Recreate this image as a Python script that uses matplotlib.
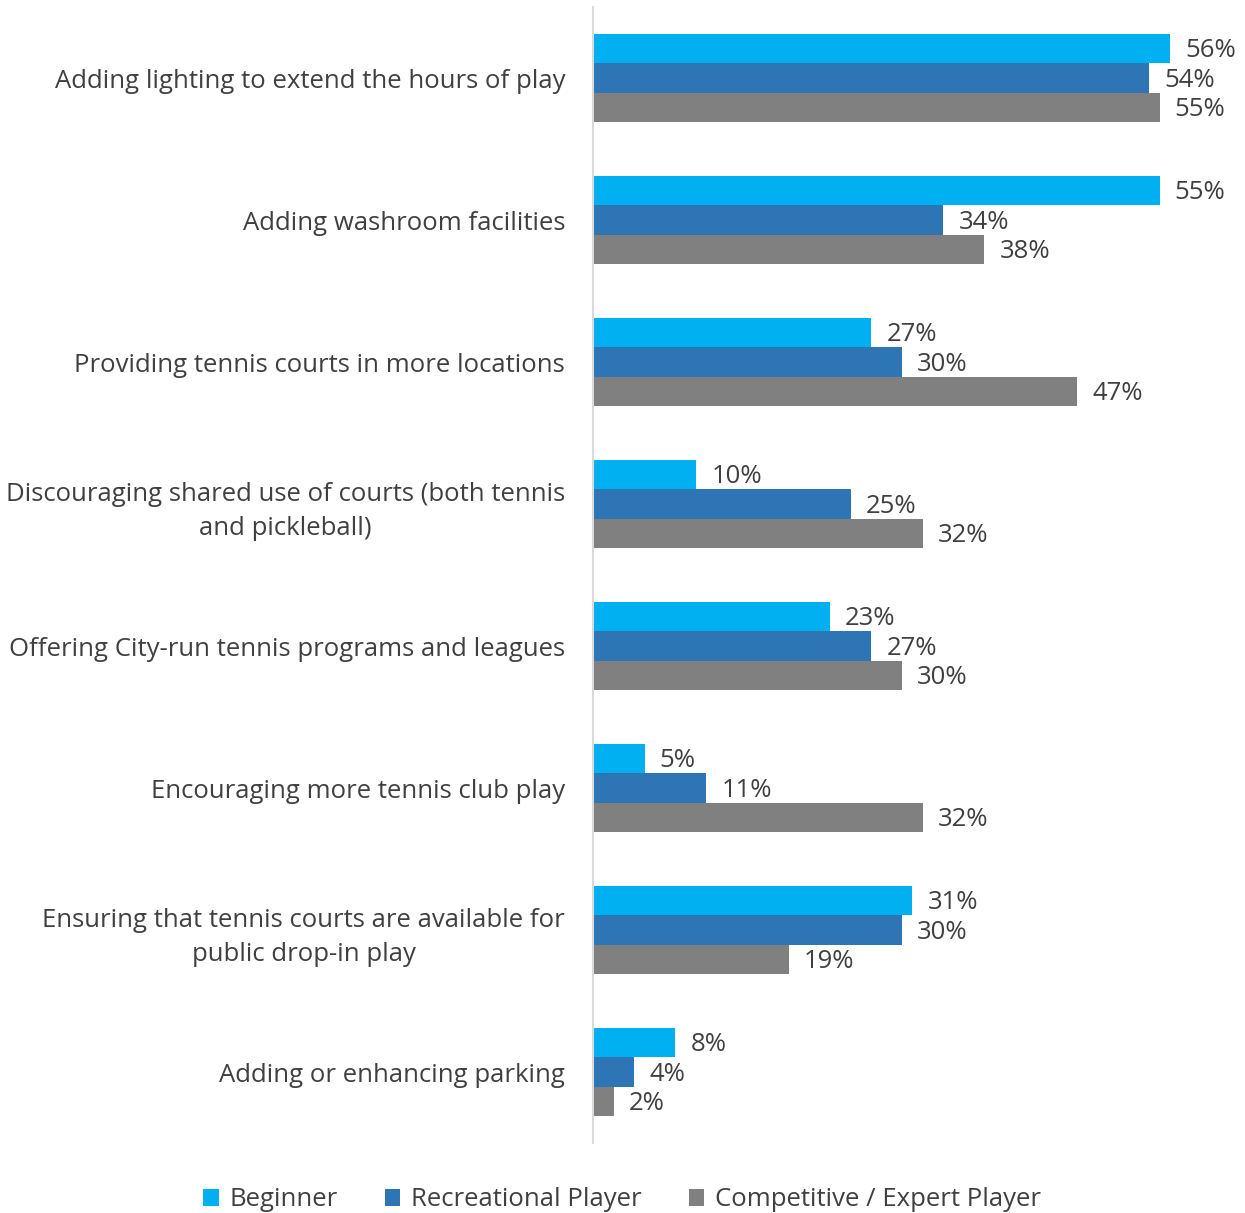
import matplotlib
matplotlib.use("Agg")
import matplotlib.pyplot as plt
from matplotlib.patches import Patch
import numpy as np

categories = [
    "Adding lighting to extend the hours of play",
    "Adding washroom facilities",
    "Providing tennis courts in more locations",
    "Discouraging shared use of courts (both tennis\nand pickleball)",
    "Offering City-run tennis programs and leagues",
    "Encouraging more tennis club play",
    "Ensuring that tennis courts are available for\npublic drop-in play",
    "Adding or enhancing parking",
]
series_names = ["Beginner", "Recreational Player", "Competitive / Expert Player"]
beginner = [56, 55, 27, 10, 23, 5, 31, 8]
recreational = [54, 34, 30, 25, 27, 11, 30, 4]
competitive = [55, 38, 47, 32, 30, 32, 19, 2]
colors = ["#00B0F0", "#2E75B6", "#808080"]

plt.rcParams["font.family"] = ["Open Sans", "DejaVu Sans"]
text_color = "#404040"
fs = 18.5

W, H = 1245, 1213
fig = plt.figure(figsize=(W / 100, H / 100), dpi=100)
left, right, top, bottom = 593, 1245, 7, 1143
ax = fig.add_axes([left / W, 1 - bottom / H, (right - left) / W, (bottom - top) / H])

n = len(categories)
y = np.arange(n)
bar_h = 0.207
values = [beginner, recreational, competitive]
for i, (vals, c) in enumerate(zip(values, colors)):
    pos = y + (i - 1) * bar_h
    ax.barh(pos, vals, height=bar_h, color=c, edgecolor="none")
    for yy, v in zip(pos, vals):
        ax.annotate(f"{v}%", (v, yy), xytext=(11, -1.5), textcoords="offset points",
                    va="center", ha="left", fontsize=fs, color=text_color)

ax.set_ylim(n - 0.5, -0.5)
ax.set_xlim(0, (right - left) / 10.3)
ax.set_yticks(y)
ax.set_yticklabels(categories, fontsize=fs, color=text_color, ha="right",
                   multialignment="center", linespacing=1.45)
ax.tick_params(axis="y", length=0, pad=20)
ax.set_xticks([])
for s in ["top", "right", "bottom"]:
    ax.spines[s].set_visible(False)
ax.spines["left"].set_color("#D9D9D9")
ax.spines["left"].set_linewidth(1.5)

handles = [Patch(facecolor=c, edgecolor="none") for c in colors]
fig.legend(handles, series_names, loc="center", bbox_to_anchor=(622 / W, 1 - 1200 / H),
           ncol=3, frameon=False, fontsize=fs, labelcolor=text_color,
           handlelength=0.6, handleheight=0.6, handletextpad=0.4, columnspacing=1.85)

fig.savefig("out.png", dpi=100, facecolor="white")
